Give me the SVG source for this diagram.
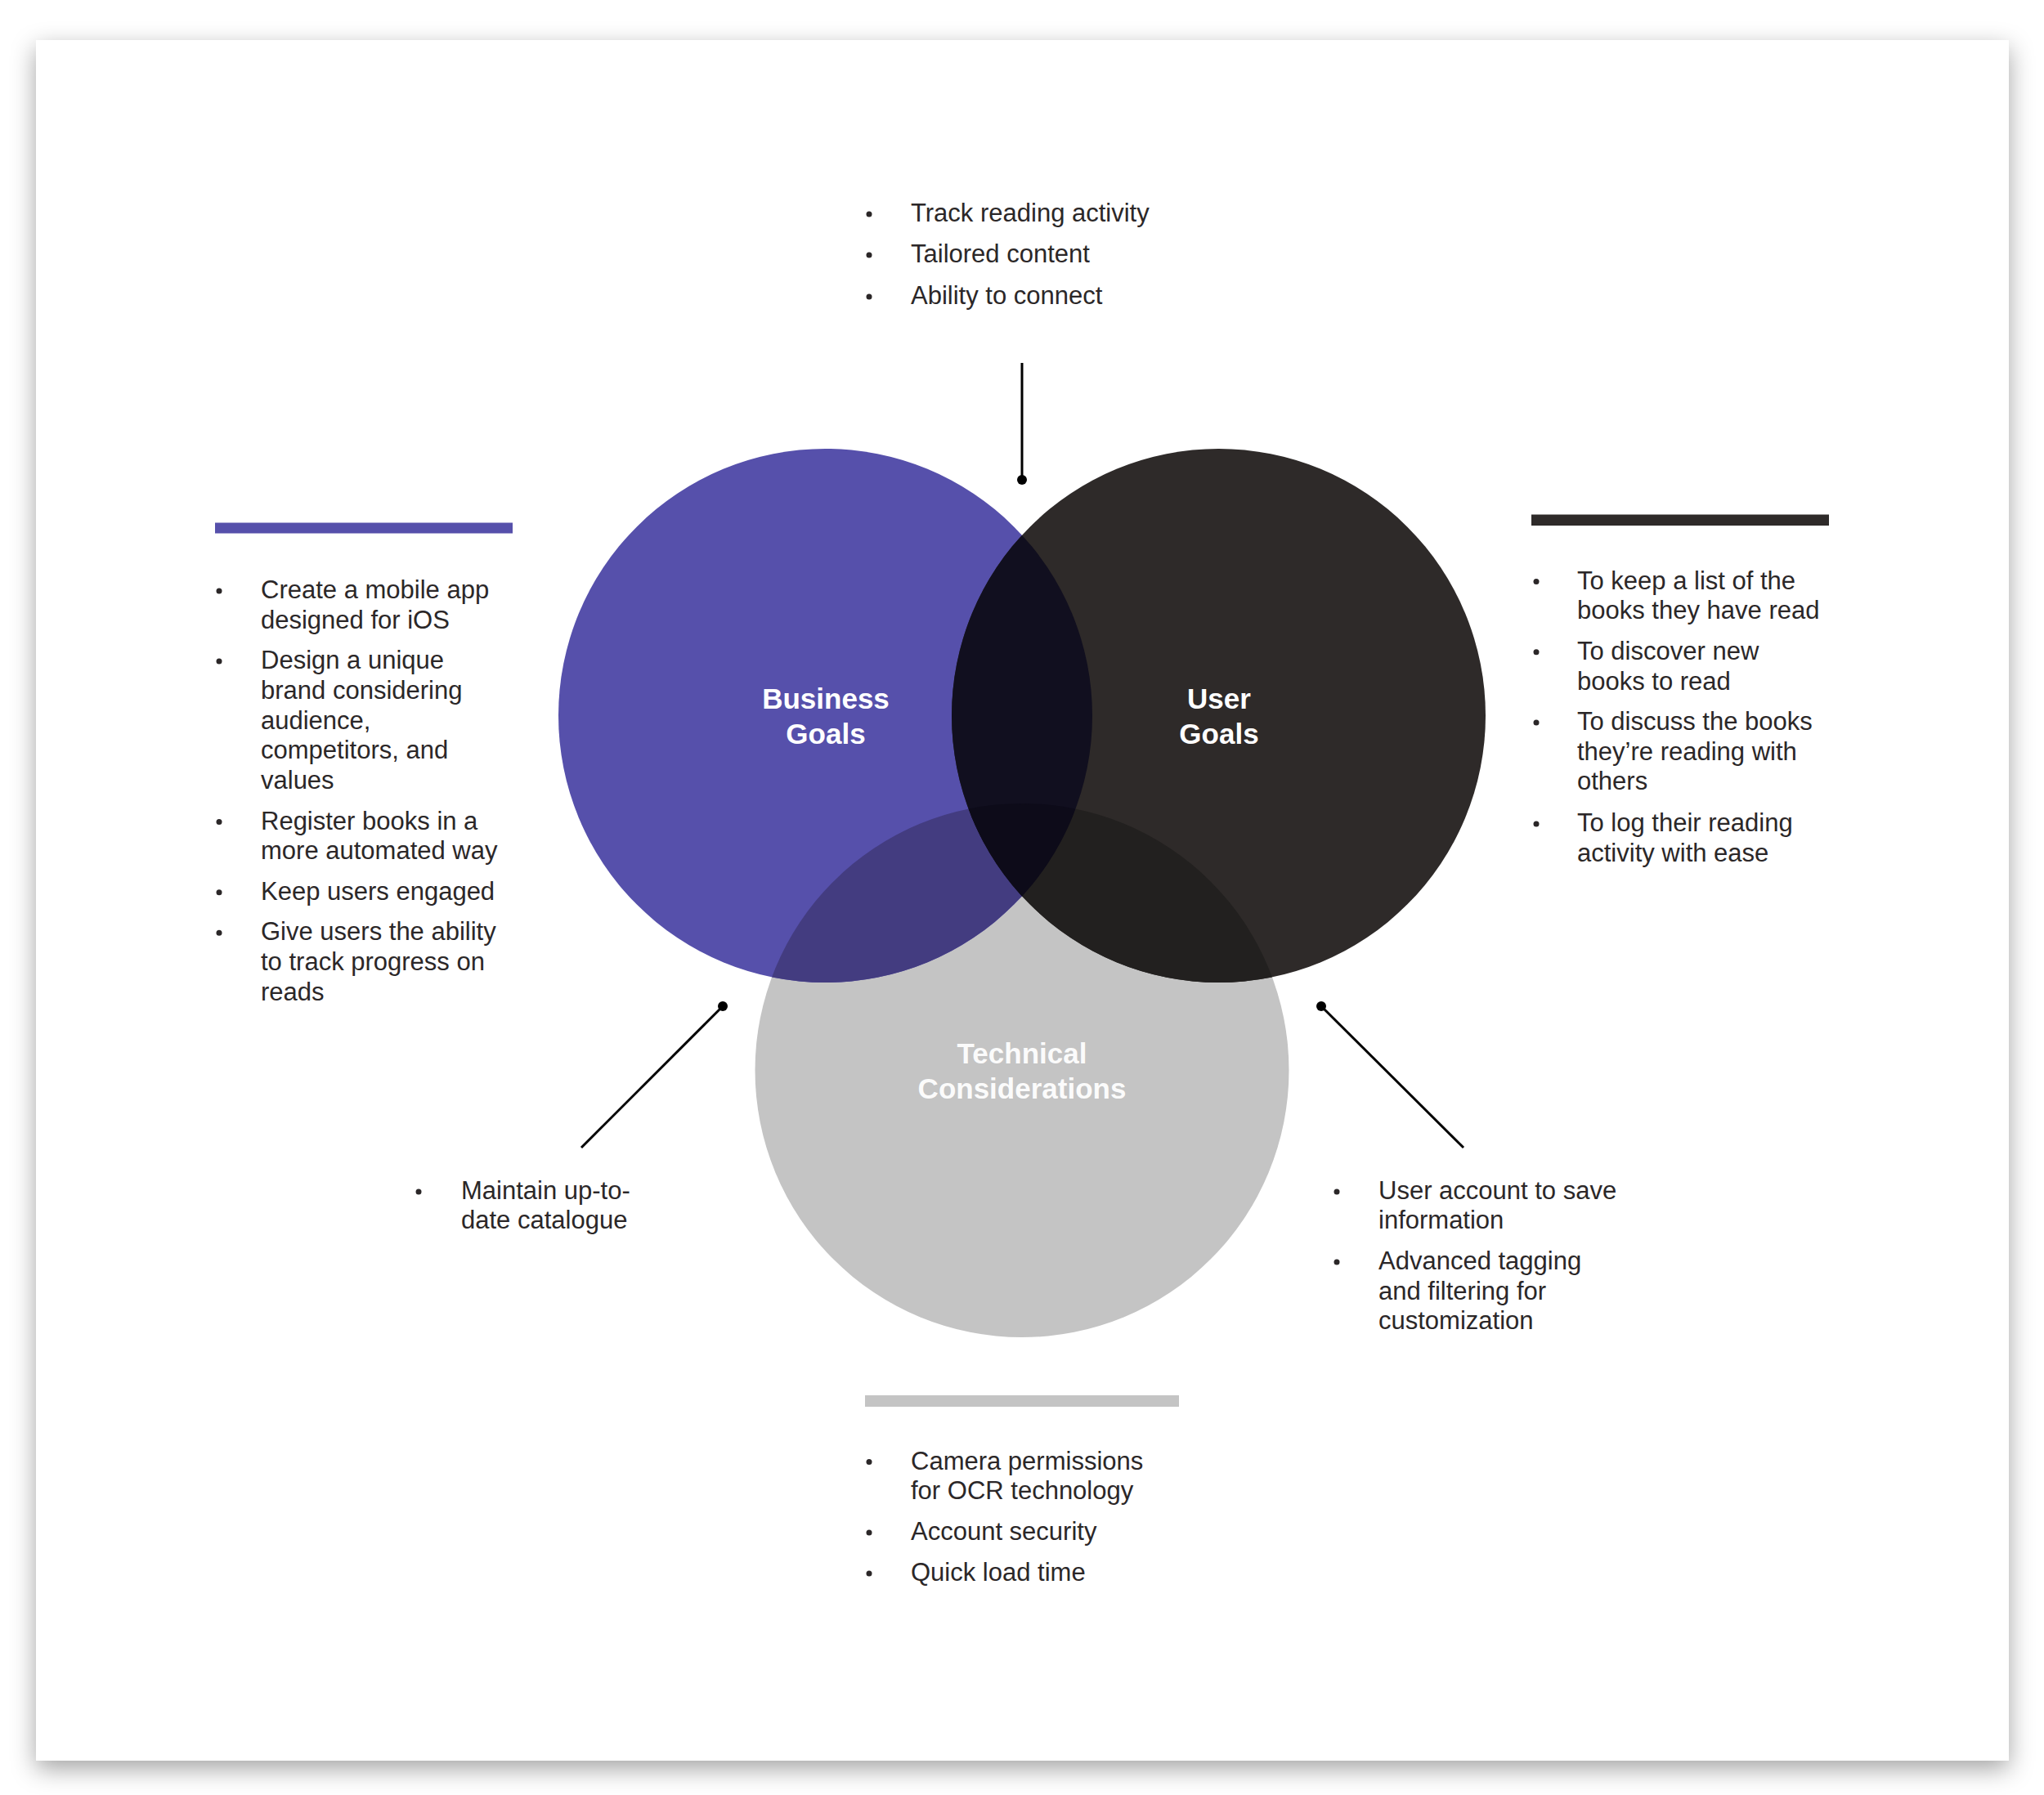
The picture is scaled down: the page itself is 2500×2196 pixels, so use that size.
<svg xmlns="http://www.w3.org/2000/svg" width="2500" height="2196" viewBox="0 0 2500 2196">
<style>
.t{font-family:"Liberation Sans",Arial,sans-serif;font-size:31px;fill:#2b2728}
.lbl{font-family:"Liberation Sans",Arial,sans-serif;font-size:35px;font-weight:bold;fill:#ffffff;text-anchor:middle}
.b{fill:#2b2728}
.con{stroke:#000;stroke-width:3;fill:none}
.dot{fill:#000}
</style>
<defs>
<filter id="shadow" x="-5%" y="-5%" width="110%" height="112%">
<feDropShadow dx="0" dy="10" stdDeviation="15" flood-color="#000" flood-opacity="0.36"/>
</filter>
<clipPath id="cBiz"><circle cx="1009.5" cy="875.5" r="326.5"/></clipPath>
<clipPath id="cUser"><circle cx="1490.5" cy="875.5" r="326.5"/></clipPath>
<clipPath id="cTech"><circle cx="1250" cy="1309.5" r="326.5"/></clipPath>
</defs>
<rect x="0" y="0" width="2500" height="2196" fill="#ffffff"/>
<rect x="44" y="49" width="2413" height="2105" fill="#ffffff" filter="url(#shadow)"/>

<g id="node-technical">
<circle cx="1250" cy="1309.5" r="326.5" fill="#c4c4c4"/>
<text class="lbl" x="1250" y="1301" fill-opacity="0.95">Technical</text>
<text class="lbl" x="1250" y="1344" fill-opacity="0.95">Considerations</text>
</g>
<g id="node-business">
<circle cx="1009.5" cy="875.5" r="326.5" fill="#5650ab"/>
<text class="lbl" x="1010" y="867">Business</text>
<text class="lbl" x="1010" y="910">Goals</text>
</g>
<g id="node-user">
<circle cx="1490.5" cy="875.5" r="326.5" fill="#2e2a29"/>
<text class="lbl" x="1491" y="867">User</text>
<text class="lbl" x="1491" y="910">Goals</text>
</g>
<g id="overlaps">
<circle cx="1250" cy="1309.5" r="326.5" fill="#433c80" clip-path="url(#cBiz)"/>
<circle cx="1250" cy="1309.5" r="326.5" fill="#22201f" clip-path="url(#cUser)"/>
<circle cx="1490.5" cy="875.5" r="326.5" fill="#110f1f" clip-path="url(#cBiz)"/>
<g clip-path="url(#cBiz)"><circle cx="1250" cy="1309.5" r="326.5" fill="#0d0b19" clip-path="url(#cUser)"/></g>
</g>

<g id="connectors">
<line class="con" x1="1250" y1="444" x2="1250" y2="587"/>
<circle class="dot" cx="1250" cy="587" r="6"/>
<line class="con" x1="884" y1="1231" x2="711" y2="1404"/>
<circle class="dot" cx="884" cy="1231" r="6"/>
<line class="con" x1="1616" y1="1231" x2="1790" y2="1404"/>
<circle class="dot" cx="1616" cy="1231" r="6"/>
</g>

<g id="list-top">
<circle class="b" cx="1063" cy="262" r="3.5"/>
<text class="t" x="1114" y="271">Track reading activity</text>
<circle class="b" cx="1063" cy="312" r="3.5"/>
<text class="t" x="1114" y="321">Tailored content</text>
<circle class="b" cx="1063" cy="363" r="3.5"/>
<text class="t" x="1114" y="372">Ability to connect</text>
</g>

<g id="list-business">
<rect x="263" y="639.5" width="364" height="13" fill="#5650ab"/>
<circle class="b" cx="268" cy="723" r="3.5"/>
<text class="t" x="319" y="732">Create a mobile app</text>
<text class="t" x="319" y="768.7">designed for iOS</text>
<circle class="b" cx="268" cy="809" r="3.5"/>
<text class="t" x="319" y="818.2">Design a unique</text>
<text class="t" x="319" y="854.9">brand considering</text>
<text class="t" x="319" y="891.6">audience,</text>
<text class="t" x="319" y="928.3">competitors, and</text>
<text class="t" x="319" y="965">values</text>
<circle class="b" cx="268" cy="1005.5" r="3.5"/>
<text class="t" x="319" y="1014.5">Register books in a</text>
<text class="t" x="319" y="1051.2">more automated way</text>
<circle class="b" cx="268" cy="1091.7" r="3.5"/>
<text class="t" x="319" y="1100.7">Keep users engaged</text>
<circle class="b" cx="268" cy="1141.2" r="3.5"/>
<text class="t" x="319" y="1150.2">Give users the ability</text>
<text class="t" x="319" y="1186.9">to track progress on</text>
<text class="t" x="319" y="1223.6">reads</text>
</g>

<g id="list-user">
<rect x="1873" y="629.5" width="364" height="13.5" fill="#2e2a29"/>
<circle class="b" cx="1879" cy="711.5" r="3.5"/>
<text class="t" x="1929" y="720.5">To keep a list of the</text>
<text class="t" x="1929" y="757.2">books they have read</text>
<circle class="b" cx="1879" cy="797.8" r="3.5"/>
<text class="t" x="1929" y="806.8">To discover new</text>
<text class="t" x="1929" y="843.5">books to read</text>
<circle class="b" cx="1879" cy="884" r="3.5"/>
<text class="t" x="1929" y="893">To discuss the books</text>
<text class="t" x="1929" y="929.7">they’re reading with</text>
<text class="t" x="1929" y="966.4">others</text>
<circle class="b" cx="1879" cy="1008" r="3.5"/>
<text class="t" x="1929" y="1017">To log their reading</text>
<text class="t" x="1929" y="1053.7">activity with ease</text>
</g>

<g id="list-biz-tech">
<circle class="b" cx="512" cy="1458" r="3.5"/>
<text class="t" x="564" y="1467">Maintain up-to-</text>
<text class="t" x="564" y="1503">date catalogue</text>
</g>

<g id="list-user-tech">
<circle class="b" cx="1635" cy="1458" r="3.5"/>
<text class="t" x="1686" y="1467">User account to save</text>
<text class="t" x="1686" y="1503">information</text>
<circle class="b" cx="1635" cy="1544" r="3.5"/>
<text class="t" x="1686" y="1553">Advanced tagging</text>
<text class="t" x="1686" y="1589.5">and filtering for</text>
<text class="t" x="1686" y="1626">customization</text>
</g>

<g id="list-technical">
<rect x="1058" y="1707" width="384" height="14" fill="#c4c4c4"/>
<circle class="b" cx="1063" cy="1788.5" r="3.5"/>
<text class="t" x="1114" y="1797.5">Camera permissions</text>
<text class="t" x="1114" y="1833.5">for OCR technology</text>
<circle class="b" cx="1063" cy="1875" r="3.5"/>
<text class="t" x="1114" y="1884">Account security</text>
<circle class="b" cx="1063" cy="1925" r="3.5"/>
<text class="t" x="1114" y="1934">Quick load time</text>
</g>
</svg>
